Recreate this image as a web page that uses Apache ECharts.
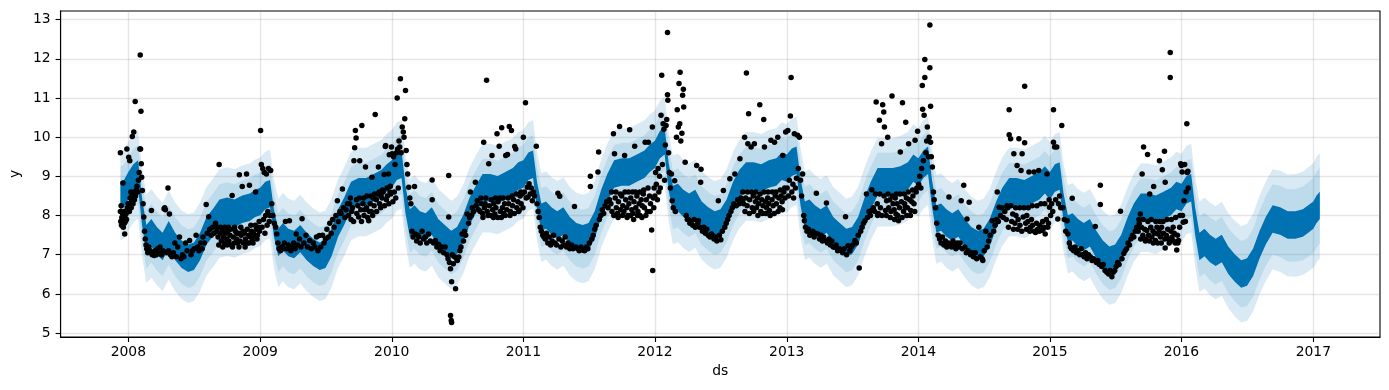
<!DOCTYPE html>
<html><head><meta charset="utf-8">
<script src="https://cdn.jsdelivr.net/npm/echarts@6/dist/echarts.min.js"></script>
<style>html,body{margin:0;padding:0;background:#fff}#c{width:1389px;height:390px}</style>
</head><body><div id="c"></div>
<script>
// ---------- forecast (yhat centre) sampled on these month-days each year ----------
const bandDays = ['01-01','01-15','01-28','02-08','02-20','03-05','03-20','04-05','04-22','05-10','05-28','06-15','07-01','07-18','08-05','08-22','09-10','10-01','10-22','11-12','12-03','12-18'];
const yhatStartDates = ['2007-12-10','2007-12-20'];
const yhatStart = [8.5, 8.55];
const yhat2008 = [8.75,8.95,9.05,8.1,7.4,7.55,7.35,7.2,7.5,7.2,7.0,6.9,6.95,7.2,7.6,7.8,8.05,8.1,8.05,8.15,8.2,8.3];
const yhat2009 = [8.35,8.5,8.55,7.8,7.3,7.45,7.3,7.25,7.4,7.2,7.05,6.95,7.0,7.3,7.8,8.1,8.5,8.6,8.6,8.7,8.8,8.95];
const yhat2010 = [9.05,9.25,9.3,8.4,7.8,7.9,7.75,7.7,7.85,7.55,7.4,7.25,7.35,7.65,8.1,8.4,8.7,8.7,8.65,8.75,8.85,9.0];
const yhat2011 = [9.05,9.25,9.3,8.5,7.95,8.0,7.85,7.75,7.85,7.6,7.45,7.4,7.45,7.75,8.3,8.7,9.05,9.1,9.1,9.2,9.3,9.45];
const yhat2012 = [9.55,9.8,9.9,9.0,8.4,8.45,8.3,8.2,8.3,8.0,7.85,7.75,7.8,8.05,8.5,8.8,9.0,9.0,8.95,9.05,9.1,9.25];
const yhat2013 = [9.2,9.35,9.4,8.6,8.0,8.05,7.9,7.8,7.9,7.6,7.45,7.3,7.35,7.6,8.1,8.5,8.85,8.85,8.85,8.9,9.0,9.2];
const yhat2014 = [9.1,9.3,9.4,8.55,7.9,7.95,7.8,7.7,7.8,7.55,7.35,7.25,7.3,7.55,8.0,8.35,8.6,8.6,8.55,8.65,8.75,8.9];
const yhat2015 = [8.75,8.95,9.0,8.2,7.65,7.7,7.55,7.45,7.55,7.25,7.0,6.85,6.9,7.15,7.6,7.95,8.2,8.2,8.15,8.25,8.35,8.5];
const yhat2016 = [8.45,8.65,8.7,7.85,7.2,7.3,7.15,7.05,7.15,6.85,6.65,6.5,6.55,6.8,7.25,7.6,7.9,7.85,7.75,7.75,7.8,7.9];
const yhatEndDates = ['2017-01-01','2017-01-10','2017-01-19'];
const yhatEnd = [8.0, 8.15, 8.25];

// weekly swing of yhat around its centre, and uncertainty half-widths
const weeklyHigh = 0.36, weeklyLow = 0.34;
const intervalHistory = 0.75, spikeExtra = 0.38;
const interval2016 = [0.75,0.75,0.75,0.76,0.77,0.78,0.8,0.81,0.82,0.83,0.84,0.85,0.86,0.87,0.88,0.89,0.9,0.91,0.92,0.93,0.94,0.95];
const intervalEnd = [0.96,0.97,0.97];

// ---------- axis ticks ----------
const yearTicks = [2008,2009,2010,2011,2012,2013,2014,2015,2016,2017];
const yTicks = [5,6,7,8,9,10,11,12,13];

// ---------- observed points (month-day, value) ----------
const obs2007 = [['12-10',9.6],['12-10',8.1],['12-11',7.85],['12-12',8.25],['12-13',7.75],['12-14',7.95],['12-15',7.8],['12-16',8.05],['12-17',8.83],['12-18',7.7],['12-19',7.9],['12-20',8.1],['12-21',7.8],['12-22',7.53],['12-23',7.95],['12-24',7.85],['12-26',8.05],['12-27',7.9],['12-28',9.7],['12-29',8.2],['12-30',8.1],['12-31',8.3]];
const obs2008 = [['01-02',9.49],['01-03',8.25],['01-04',8.1],['01-05',9.4],['01-06',8.45],['01-07',8.3],['01-08',8.6],['01-09',8.2],['01-10',8.35],['01-11',8.5],['01-12',10.02],['01-13',8.55],['01-14',8.3],['01-16',10.13],['01-17',8.6],['01-18',8.4],['01-19',8.55],['01-20',10.91],['01-21',8.5],['01-23',8.65],['01-25',8.75],['01-27',8.6],['01-29',8.9],['01-31',9.1],
['02-02',9.7],['02-03',12.1],['02-04',9.7],['02-05',10.66],['02-06',9.32],['02-07',8.98],['02-09',8.64],['02-11',8.3],['02-13',7.96],['02-15',7.6],['02-17',7.4],['02-19',7.25],['02-21',7.15],['02-24',7.05],['02-27',7.2],
['03-02',7.1],['03-05',8.13],['03-07',7.0],['03-10',7.05],['03-13',6.98],['03-16',7.1],['03-19',7.0],['03-22',7.15],['03-25',7.05],['03-29',7.2],
['04-02',7.0],['04-06',7.1],['04-09',8.17],['04-11',8.2],['04-13',8.15],['04-16',7.05],['04-20',8.7],['04-22',7.1],['04-24',8.04],['04-27',7.0],
['05-01',6.95],['05-05',7.05],['05-09',7.3],['05-13',6.95],['05-17',7.2],['05-22',7.45],['05-26',6.9],['05-30',7.0],
['06-03',6.95],['06-08',7.3],['06-12',7.1],['06-19',7.36],['06-23',7.0],['06-27',7.1],
['07-02',7.15],['07-07',7.5],['07-11',7.2],['07-15',7.1],['07-20',7.3],['07-24',7.15],['07-26',7.45],['07-30',7.3],
['08-04',8.28],['08-07',7.55],['08-11',7.97],['08-14',7.65],['08-18',7.5],['08-22',7.7],['08-26',7.55],['08-30',7.8],
['09-03',7.6],['09-06',7.45],['09-09',9.3],['09-12',7.55],['09-15',7.35],['09-18',7.6],['09-21',7.45],['09-24',7.3],['09-27',7.55],['09-30',7.4],
['10-03',7.6],['10-06',7.35],['10-09',7.5],['10-12',7.25],['10-15',8.51],['10-18',7.45],['10-21',7.3],['10-24',7.6],['10-27',7.4],['10-30',7.3],
['11-02',7.55],['11-04',9.04],['11-06',7.35],['11-09',7.5],['11-12',8.74],['11-15',7.3],['11-18',7.55],['11-21',7.4],['11-24',9.06],['11-27',7.3],['11-30',7.5],
['12-02',8.77],['12-04',7.45],['12-07',7.6],['12-10',7.35],['12-13',7.55],['12-16',7.45],['12-19',8.6],['12-21',7.65],['12-24',7.5],['12-27',7.7],['12-30',7.6],
['09-04',7.7],['09-08',7.25],['09-13',7.7],['09-19',7.2],['09-25',7.7],['10-01',7.25],['10-05',7.7],['10-11',7.65],['10-16',7.2],['10-22',7.7],['10-28',7.55],['11-03',7.2],['11-08',7.7],['11-14',7.6],['11-20',7.2],['11-26',7.65],['12-01',7.3],['12-06',7.75],['12-12',7.3],['12-18',7.75],['12-23',7.4],['12-29',7.85]];
const obs2009 = [['01-02',10.17],['01-04',9.3],['01-06',7.7],['01-08',9.2],['01-10',7.9],['01-12',9.1],['01-14',7.55],['01-16',8.0],['01-18',9.06],['01-20',7.75],['01-22',8.1],['01-24',9.2],['01-26',7.85],['01-28',8.0],['01-30',9.15],
['02-02',8.3],['02-05',8.0],['02-09',7.8],['02-13',7.7],['02-16',7.53],['02-19',7.3],['02-22',7.15],['02-26',7.1],
['03-02',7.2],['03-05',7.15],['03-09',7.3],['03-12',7.85],['03-16',7.15],['03-20',7.25],['03-23',7.87],['03-27',7.1],['03-31',7.2],
['04-04',7.3],['04-08',7.15],['04-11',7.53],['04-15',7.25],['04-20',7.4],['04-24',7.2],['04-27',7.92],
['05-02',7.3],['05-08',7.5],['05-12',7.2],['05-18',7.36],['05-23',7.15],['05-28',7.3],
['06-02',7.2],['06-06',7.45],['06-10',7.1],['06-14',7.49],['06-18',7.2],['06-23',7.5],['06-27',7.3],
['07-01',7.4],['07-05',7.65],['07-09',7.45],['07-13',7.8],['07-17',7.55],['07-21',7.9],['07-25',7.7],['07-30',8.0],
['08-03',8.38],['08-06',7.85],['08-10',8.1],['08-13',8.05],['08-17',8.68],['08-20',8.2],['08-24',7.95],['08-27',8.15],['08-31',8.3],
['09-03',8.0],['09-06',8.3],['09-10',7.9],['09-14',8.2],['09-18',9.4],['09-20',9.73],['09-22',10.17],['09-24',9.98],['09-26',8.05],['09-29',8.25],
['10-01',7.96],['10-04',9.4],['10-07',8.15],['10-10',10.3],['10-13',8.3],['10-16',8.0],['10-20',9.24],['10-23',8.2],['10-26',7.95],['10-29',7.87],
['11-02',8.3],['11-05',8.1],['11-07',8.98],['11-10',8.45],['11-13',8.25],['11-16',10.58],['11-19',8.4],['11-22',8.55],['11-25',9.24],['11-28',8.3],
['12-02',8.5],['12-05',8.45],['12-08',8.6],['12-11',9.05],['12-14',9.76],['12-15',9.79],['12-17',8.4],['12-20',8.5],['12-23',9.06],['12-25',9.55],['12-27',8.6],['12-29',8.55],['12-31',9.75],
['09-08',8.45],['09-12',8.1],['09-17',7.85],['09-25',8.4],['10-03',8.45],['10-09',7.85],['10-15',8.45],['10-18',8.15],['10-24',8.5],['10-31',8.1],['11-04',8.5],['11-09',8.0],['11-14',8.55],['11-20',8.1],['11-27',8.6],['12-01',8.2],['12-06',8.65],['12-12',8.25],['12-19',8.7],['12-24',8.3],['12-28',8.75]];
const obs2010 = [['01-02',9.58],['01-04',8.35],['01-06',9.5],['01-08',8.6],['01-10',9.3],['01-12',8.45],['01-14',9.6],['01-16',11.0],['01-17',9.7],['01-19',8.7],['01-21',9.9],['01-23',9.75],['01-25',11.49],['01-27',9.6],['01-30',10.26],
['02-02',10.13],['02-04',10.0],['02-06',10.47],['02-08',11.19],['02-10',9.66],['02-12',9.3],['02-14',9.06],['02-17',8.72],['02-20',8.45],['02-23',8.3],['02-26',7.6],
['03-01',7.45],['03-05',8.74],['03-07',7.53],['03-11',7.35],['03-14',7.5],['03-17',7.45],['03-21',7.3],['03-26',7.6],['03-30',7.4],
['04-04',7.45],['04-08',7.3],['04-13',7.53],['04-18',7.35],['04-23',8.91],['04-23',8.4],['04-27',7.3],
['05-02',7.36],['05-06',7.2],['05-11',7.27],['05-15',7.1],['05-20',7.2],['05-25',7.05],['05-29',7.2],
['06-03',7.0],['06-06',6.9],['06-08',9.02],['06-08',7.96],['06-10',6.8],['06-13',6.64],['06-13',5.45],['06-15',5.32],['06-16',5.27],['06-16',6.31],['06-18',7.0],['06-21',6.77],['06-24',6.95],['06-27',6.13],['06-30',6.9],
['07-02',6.85],['07-06',6.94],['07-09',7.1],['07-12',7.2],['07-15',7.53],['07-19',7.35],['07-22',7.6],['07-25',7.5],['07-29',8.04],
['08-02',7.8],['08-05',7.95],['08-07',8.6],['08-10',8.0],['08-12',8.2],['08-16',8.1],['08-21',8.85],['08-23',8.25],['08-26',8.38],['08-30',8.15],
['09-03',8.1],['09-07',8.3],['09-10',8.05],['09-13',9.87],['09-15',8.2],['09-17',8.3],['09-21',11.45],['09-23',8.1],['09-27',9.32],['09-29',8.25],
['10-02',8.0],['10-06',9.53],['10-08',8.15],['10-11',8.3],['10-14',8.04],['10-17',8.2],['10-20',10.09],['10-23',8.35],['10-26',9.77],['10-29',8.1],
['11-02',10.24],['11-04',8.2],['11-07',8.05],['11-10',8.3],['11-13',9.53],['11-16',8.15],['11-18',9.56],['11-21',8.3],['11-23',10.27],['11-26',8.1],['11-29',10.17],
['12-02',8.25],['12-05',8.4],['12-08',9.76],['12-11',9.7],['12-14',8.2],['12-17',8.35],['12-20',8.13],['12-23',8.5],['12-26',8.3],['12-29',8.55],
['09-05',8.45],['09-11',7.95],['09-19',8.45],['09-25',8.0],['10-04',8.4],['10-10',7.95],['10-16',8.45],['10-22',7.95],['10-28',8.45],['11-01',7.95],['11-06',8.45],['11-12',8.0],['11-20',8.45],['11-25',8.0],['12-01',8.5],['12-07',8.05],['12-13',8.55],['12-19',8.1],['12-25',8.6],['12-31',8.2]];
const obs2011 = [['01-01',10.0],['01-04',8.6],['01-07',10.88],['01-09',8.45],['01-12',8.72],['01-14',8.47],['01-17',8.81],['01-20',8.55],['01-23',8.7],['01-26',8.38],['01-29',8.6],
['02-01',8.5],['02-06',9.77],['02-08',8.3],['02-11',8.1],['02-14',7.95],['02-17',7.7],['02-20',7.6],['02-24',7.5],['02-27',7.45],
['03-03',7.4],['03-06',7.55],['03-10',7.3],['03-14',7.45],['03-18',7.25],['03-22',7.35],['03-26',7.5],['03-30',7.3],
['04-03',7.25],['04-07',8.57],['04-10',7.4],['04-12',8.49],['04-15',7.2],['04-19',7.35],['04-23',7.25],['04-27',7.45],
['05-01',7.2],['05-05',7.3],['05-10',7.15],['05-15',7.25],['05-19',7.15],['05-23',8.23],['05-27',7.2],
['06-01',7.15],['06-05',7.1],['06-10',7.2],['06-15',7.12],['06-20',7.1],['06-25',7.2],['06-29',7.15],
['07-03',7.3],['07-06',9.0],['07-06',8.74],['07-10',7.4],['07-14',7.5],['07-18',7.65],['07-22',7.75],['07-27',9.11],['07-29',9.62],['07-31',7.9],
['08-04',8.0],['08-08',8.15],['08-12',8.05],['08-16',8.25],['08-20',8.35],['08-24',8.2],['08-28',8.4],
['09-01',8.3],['09-04',8.1],['09-08',10.09],['09-11',9.58],['09-13',8.45],['09-16',8.2],['09-19',8.05],['09-22',8.35],['09-25',10.27],['09-28',8.15],
['10-01',8.5],['10-04',8.25],['10-07',8.1],['10-09',9.53],['10-12',8.4],['10-15',8.2],['10-18',8.0],['10-21',8.3],['10-23',10.19],['10-26',8.45],['10-29',8.15],
['11-01',8.05],['11-04',8.35],['11-06',9.77],['11-09',8.2],['11-12',8.5],['11-15',8.1],['11-18',8.3],['11-21',8.0],['11-24',8.4],['11-27',8.25],['11-30',8.55],
['12-03',8.2],['12-05',9.87],['12-08',8.4],['12-11',8.1],['12-14',9.87],['12-17',8.5],['12-20',8.3],['12-23',7.63],['12-25',10.26],['12-26',6.6],['12-28',8.45],['12-30',8.7],
['09-03',8.6],['09-09',8.0],['09-15',8.6],['09-21',7.95],['09-27',8.55],['10-03',8.0],['10-10',8.6],['10-16',7.95],['10-20',8.6],['10-25',8.0],['10-31',8.6],['11-03',7.9],['11-08',8.6],['11-14',8.0],['11-20',8.6],['11-26',7.95],['12-01',8.65],['12-07',8.0],['12-13',8.7],['12-19',8.1],['12-29',8.2]];
const obs2012 = [['01-01',8.5],['01-03',9.1],['01-05',8.8],['01-08',8.4],['01-10',9.2],['01-12',8.6],['01-14',9.0],['01-16',8.7],['01-18',10.56],['01-20',11.58],['01-22',9.3],['01-24',10.34],['01-26',10.2],['01-28',8.9],['01-30',9.8],
['02-01',10.3],['02-03',10.45],['02-05',12.67],['02-05',11.08],['02-06',10.94],['02-08',9.6],['02-10',9.1],['02-13',8.7],['02-16',9.06],['02-18',8.38],['02-21',8.2],['02-25',8.89],['02-27',8.1],
['03-01',10.0],['03-03',10.7],['03-06',10.26],['03-08',11.37],['03-10',10.34],['03-11',11.66],['03-13',9.9],['03-16',10.1],['03-18',11.07],['03-20',11.22],['03-21',10.77],['03-25',9.36],['03-28',8.0],['03-31',7.9],
['04-03',7.9],['04-07',7.8],['04-11',7.85],['04-15',7.75],['04-19',7.9],['04-22',7.7],['04-26',9.28],['04-29',7.8],
['05-01',7.87],['05-04',7.7],['05-07',8.85],['05-08',9.18],['05-12',7.6],['05-16',7.7],['05-20',7.55],['05-24',7.65],['05-28',7.5],
['06-02',7.45],['06-06',7.53],['06-09',7.49],['06-13',7.4],['06-17',7.45],['06-21',7.35],['06-25',8.38],['06-28',7.5],
['07-02',7.38],['07-06',7.6],['07-09',8.64],['07-13',7.7],['07-17',7.8],['07-21',7.9],['07-25',8.0],['07-27',8.94],['07-30',8.1],
['08-03',8.2],['08-07',8.3],['08-10',9.06],['08-14',8.25],['08-18',8.4],['08-22',8.3],['08-24',9.45],['08-27',8.45],['08-31',8.35],
['09-03',8.3],['09-06',10.0],['09-09',8.45],['09-11',11.64],['09-13',8.25],['09-15',9.83],['09-17',10.6],['09-20',8.4],['09-24',9.75],['09-27',8.2],['09-30',8.5],
['10-03',9.83],['10-06',8.35],['10-09',8.2],['10-12',8.45],['10-15',8.3],['10-18',10.83],['10-21',8.1],['10-24',8.4],['10-27',8.25],['10-29',10.45],['10-31',9.75],
['11-03',8.35],['11-06',8.2],['11-09',8.45],['11-12',8.3],['11-14',8.13],['11-18',9.92],['11-21',8.4],['11-24',8.25],['11-28',9.87],['11-30',8.5],
['12-03',8.3],['12-07',10.0],['12-10',8.45],['12-13',8.2],['12-16',8.5],['12-19',8.35],['12-21',9.53],['12-24',8.6],['12-27',8.45],['12-29',10.13],
['09-01',8.6],['09-07',8.1],['09-14',8.6],['09-19',8.05],['09-25',8.6],['10-01',8.1],['10-07',8.6],['10-13',8.0],['10-19',8.55],['10-25',8.05],['10-30',8.6],['11-04',8.05],['11-10',8.6],['11-16',8.0],['11-22',8.6],['11-27',8.05],['12-02',8.6],['12-08',8.1],['12-14',8.65],['12-20',8.15],['12-26',8.7]];
const obs2013 = [['01-02',8.7],['01-04',10.17],['01-06',8.5],['01-08',8.9],['01-11',10.54],['01-13',11.52],['01-15',8.6],['01-18',8.8],['01-20',8.45],['01-22',10.09],['01-25',8.7],['01-28',8.95],['01-31',10.05],
['02-02',9.2],['02-05',10.0],['02-08',8.9],['02-11',8.5],['02-14',9.06],['02-17',8.0],['02-19',7.87],['02-22',7.7],['02-26',7.6],
['03-02',7.65],['03-06',7.5],['03-10',7.53],['03-14',7.6],['03-18',7.45],['03-22',7.55],['03-24',8.57],['03-28',7.53],
['04-02',7.4],['04-06',7.5],['04-10',7.35],['04-13',7.45],['04-16',7.36],['04-21',8.32],['04-24',7.3],['04-28',7.4],
['05-02',7.25],['05-06',7.35],['05-10',7.2],['05-14',7.19],['05-18',7.25],['05-22',7.1],['05-27',7.15],
['06-01',7.1],['06-05',7.05],['06-09',7.15],['06-13',7.97],['06-16',7.0],['06-20',7.23],['06-25',7.1],['06-29',7.2],
['07-03',7.25],['07-09',7.36],['07-13',7.3],['07-18',7.5],['07-21',6.66],['07-25',7.6],['07-29',7.7],
['08-02',7.8],['08-06',7.87],['08-10',8.55],['08-13',7.95],['08-17',8.1],['08-21',8.0],['08-24',8.13],['08-25',8.66],['08-29',8.2],
['09-02',8.1],['09-06',10.9],['09-09',8.3],['09-12',8.05],['09-15',10.43],['09-18',8.2],['09-21',9.83],['09-24',10.83],['09-27',10.64],['09-29',10.26],
['10-02',8.13],['10-05',8.38],['10-08',10.0],['10-11',8.2],['10-14',8.4],['10-17',8.1],['10-20',11.05],['10-23',8.3],['10-26',8.15],['10-29',8.45],['10-31',8.04],
['11-03',8.3],['11-07',7.87],['11-10',8.2],['11-12',9.62],['11-15',8.35],['11-18',10.88],['11-21',8.1],['11-24',8.3],['11-26',8.21],['11-27',10.38],['11-29',8.45],
['12-02',8.2],['12-05',9.83],['12-08',8.4],['12-11',8.13],['12-14',8.35],['12-17',8.5],['12-20',8.3],['12-23',9.92],['12-26',8.6],['12-30',10.15],
['09-04',8.55],['09-10',8.0],['09-16',8.55],['09-22',8.0],['09-28',8.5],['10-04',8.0],['10-09',8.55],['10-15',7.95],['10-21',8.5],['10-27',7.9],['11-01',8.55],['11-05',8.0],['11-11',8.55],['11-17',7.95],['11-23',8.55],['11-30',8.0],['12-04',8.6],['12-10',8.0],['12-16',8.65],['12-22',8.1],['12-28',8.7]];
const obs2014 = [['01-02',8.8],['01-05',9.0],['01-08',8.7],['01-10',9.2],['01-12',11.32],['01-13',10.71],['01-15',9.4],['01-17',10.56],['01-19',11.52],['01-19',11.98],['01-22',9.6],['01-24',9.9],['01-26',10.26],['01-29',9.5],['01-31',10.0],
['02-02',12.86],['02-02',11.77],['02-04',10.79],['02-04',9.87],['02-06',9.5],['02-09',9.24],['02-12',8.6],['02-14',8.4],['02-18',8.2],['02-21',7.8],['02-25',7.5],
['03-01',7.4],['03-05',7.3],['03-09',7.45],['03-13',7.25],['03-17',7.35],['03-21',7.2],['03-25',7.3],['03-27',8.47],['03-30',7.25],
['04-03',7.2],['04-07',7.35],['04-11',7.25],['04-15',7.15],['04-19',7.3],['04-23',7.2],['04-27',7.3],['04-30',8.38],
['05-03',7.15],['05-07',8.77],['05-10',7.2],['05-14',7.05],['05-16',7.91],['05-19',7.1],['05-22',8.34],['05-26',7.0],['05-30',7.05],
['06-03',6.95],['06-08',7.05],['06-12',6.9],['06-18',7.7],['06-22',6.95],['06-27',6.9],['06-29',6.85],
['07-03',7.1],['07-07',7.6],['07-11',7.2],['07-15',7.35],['07-19',7.5],['07-25',7.87],['07-29',7.6],
['08-02',7.75],['08-06',7.9],['08-08',8.6],['08-11',7.85],['08-13',8.21],['08-17',8.0],['08-21',8.2],['08-25',7.95],['08-29',8.1],
['09-02',7.9],['09-06',8.2],['09-10',10.7],['09-10',10.06],['09-14',9.96],['09-17',7.85],['09-20',8.04],['09-23',9.58],['09-26',7.8],['09-29',8.0],
['10-02',9.28],['10-05',7.9],['10-07',9.96],['10-10',7.75],['10-13',9.15],['10-16',9.58],['10-19',7.96],['10-23',11.3],['10-23',9.86],['10-26',7.8],['10-29',8.0],
['11-01',7.85],['11-04',9.11],['11-08',7.7],['11-11',7.9],['11-14',7.75],['11-18',9.11],['11-22',7.57],['11-25',7.8],['11-28',7.65],
['12-01',9.15],['12-04',7.75],['12-08',7.62],['12-12',7.85],['12-15',7.7],['12-19',7.53],['12-22',7.9],['12-24',9.06],['12-28',7.8],['12-31',8.21],
['09-04',8.25],['09-08',7.7],['09-15',8.25],['09-22',7.65],['09-28',8.2],['10-04',7.65],['10-09',8.2],['10-15',7.6],['10-21',8.2],['10-28',7.65],['11-02',8.2],['11-06',7.6],['11-13',8.25],['11-19',7.6],['11-26',8.25],['12-02',7.6],['12-07',8.3],['12-13',7.65],['12-18',8.3],['12-26',7.7],['12-30',8.4]];
const obs2015 = [['01-03',8.0],['01-06',8.3],['01-09',8.1],['01-11',10.7],['01-11',9.87],['01-14',9.75],['01-17',8.4],['01-20',9.75],['01-23',7.91],['01-25',8.3],['01-28',8.5],['01-31',8.2],
['02-03',10.3],['02-06',8.2],['02-10',7.9],['02-14',7.6],['02-18',7.87],['02-20',7.53],['02-24',7.3],['02-27',7.2],
['03-02',7.15],['03-04',8.44],['03-08',7.1],['03-12',7.2],['03-16',7.05],['03-20',7.1],['03-25',7.0],['03-29',7.15],
['04-02',7.0],['04-06',6.95],['04-10',7.05],['04-14',6.9],['04-18',7.0],['04-23',6.95],['04-28',6.85],
['05-02',6.9],['05-07',7.72],['05-10',6.8],['05-14',6.85],['05-18',6.75],['05-21',8.77],['05-21',8.28],['05-25',6.7],['05-29',6.75],
['06-03',6.6],['06-08',6.55],['06-13',6.51],['06-17',6.6],['06-22',6.44],['06-26',6.55],['06-30',6.6],
['07-04',6.7],['07-08',6.8],['07-12',6.75],['07-16',8.11],['07-20',6.9],['07-25',7.03],['07-29',7.1],
['08-02',7.15],['08-06',7.3],['08-10',7.25],['08-14',7.4],['08-18',7.5],['08-22',7.45],['08-26',7.6],['08-30',7.7],
['09-03',7.6],['09-06',7.8],['09-09',8.04],['09-12',7.7],['09-14',9.06],['09-16',7.5],['09-18',9.75],['09-21',7.65],['09-24',7.4],['09-27',7.62],['09-29',9.56],
['10-02',7.5],['10-05',8.55],['10-08',7.7],['10-11',7.45],['10-14',7.6],['10-16',8.74],['10-19',7.55],['10-21',7.36],['10-25',7.7],['10-28',7.53],['10-31',7.6],
['11-01',9.4],['11-04',7.45],['11-07',7.7],['11-09',9.17],['11-12',7.55],['11-15',9.64],['11-17',8.85],['11-17',7.17],['11-20',7.5],['11-24',7.65],['11-27',7.4],
['12-01',12.16],['12-01',11.52],['12-03',7.6],['12-06',7.45],['12-09',7.7],['12-12',7.55],['12-15',7.3],['12-19',7.12],['12-21',7.5],['12-24',7.36],['12-27',7.7],['12-30',9.32],
['09-05',7.9],['09-10',7.4],['09-17',7.9],['09-23',7.35],['09-30',7.85],['10-04',7.35],['10-09',7.9],['10-15',7.3],['10-22',7.85],['10-27',7.3],['11-02',7.85],['11-06',7.3],['11-11',7.85],['11-16',7.4],['11-22',7.9],['11-28',7.3],['12-04',7.9],['12-10',7.35],['12-16',7.95],['12-22',7.3],['12-28',8.0]];
const obs2016 = [['01-01',9.28],['01-03',9.11],['01-04',8.0],['01-06',7.83],['01-08',8.38],['01-10',9.3],['01-12',7.85],['01-14',8.6],['01-16',10.34],['01-17',9.1],['01-19',9.13],['01-20',8.7]];

// ---------- build tables ----------
function ts(s){ const p = s.split('-').map(Number); return Date.UTC(p[0], p[1]-1, p[2]); }
const rows = [];
yhatStartDates.forEach((d,i)=>rows.push([ts(d), yhatStart[i], intervalHistory]));
const yearly = [[2008,yhat2008],[2009,yhat2009],[2010,yhat2010],[2011,yhat2011],[2012,yhat2012],[2013,yhat2013],[2014,yhat2014],[2015,yhat2015],[2016,yhat2016]];
yearly.forEach(([y,arr])=>{
  bandDays.forEach((md,i)=>rows.push([ts(y+'-'+md), arr[i], y===2016 ? interval2016[i] : intervalHistory]));
});
yhatEndDates.forEach((d,i)=>rows.push([ts(d), yhatEnd[i], intervalEnd[i]]));

// each band: [time, low, high]
const outerBand = rows.map(r=>[r[0], r[1]-r[2]-spikeExtra, r[1]+r[2]+spikeExtra]);
const innerBand = rows.map(r=>[r[0], r[1]-r[2], r[1]+r[2]]);
const darkBand  = rows.map(r=>[r[0], r[1]-weeklyLow, r[1]+weeklyHigh]);

const obsByYear = [[2007,obs2007],[2008,obs2008],[2009,obs2009],[2010,obs2010],[2011,obs2011],[2012,obs2012],[2013,obs2013],[2014,obs2014],[2015,obs2015],[2016,obs2016]];
const observed = [];
obsByYear.forEach(([y,arr])=>arr.forEach(([md,v])=>observed.push([ts(y+'-'+md), v])));

const xTickVals = yearTicks.map(y=>Date.UTC(y,0,1));
const FONT = 'DejaVu Sans';
const txt = {fontFamily: FONT, fontSize: 13.9, color: '#000'};

// band drawn as one polygon through the axis scales
function bandSeries(band, color, z){
  return {
    type:'custom', data: band, z, silent:true, animation:false,
    encode:{x:0, y:[1,2]},
    renderItem: function(params, api){
      if (params.dataIndex !== 0) return null;
      const lower = band.map(r=>api.coord([r[0], r[1]]));
      const upper = band.map(r=>api.coord([r[0], r[2]])).reverse();
      return {type:'polygon', shape:{points: lower.concat(upper)}, style:{fill: color, stroke: null}};
    }
  };
}

const chart = echarts.init(document.getElementById('c'), null, {renderer:'canvas'});
chart.setOption({
  animation: false,
  backgroundColor: '#fff',
  grid: {left:57, right:9, top:11, bottom:53, show:true, borderColor:'#000', borderWidth:1.1, backgroundColor:'transparent', containLabel:false},
  xAxis: {
    type:'value', min: ts('2007-06-27'), max: ts('2017-07-05'), scale:true,
    name:'ds', nameLocation:'middle', nameGap:27, nameTextStyle: txt,
    axisLine:{show:true, onZero:false, lineStyle:{color:'#000', width:1.1}},
    axisTick:{show:true, length:5, customValues:xTickVals, lineStyle:{color:'#000', width:1.1}},
    axisLabel:{show:true, customValues:xTickVals, margin:8, formatter:(v)=>String(new Date(v).getUTCFullYear()), fontFamily:FONT, fontSize:13.9, color:'#000'},
    splitLine:{show:true, lineStyle:{color:'rgba(128,128,128,0.2)', width:1.4}}
  },
  yAxis: {
    type:'value', min:4.9, max:13.22, scale:true,
    name:'y', nameLocation:'middle', nameGap:38, nameRotate:90, nameTextStyle: txt,
    axisLine:{show:true, onZero:false, lineStyle:{color:'#000', width:1.1}},
    axisTick:{show:true, length:5, customValues:yTicks, lineStyle:{color:'#000', width:1.1}},
    axisLabel:{show:true, customValues:yTicks, margin:10, formatter:(v)=>String(v), fontFamily:FONT, fontSize:13.9, color:'#000'},
    splitLine:{show:true, lineStyle:{color:'rgba(128,128,128,0.2)', width:1.4}}
  },
  series: [
    bandSeries(outerBand, 'rgba(0,114,178,0.15)', 1),
    bandSeries(innerBand, 'rgba(0,114,178,0.12)', 2),
    bandSeries(darkBand, '#0072B2', 3),
    {type:'scatter', data: observed, symbol:'circle', symbolSize:5.5, itemStyle:{color:'#000', opacity:1}, silent:true, z:5, animation:false}
  ]
});
</script></body></html>
